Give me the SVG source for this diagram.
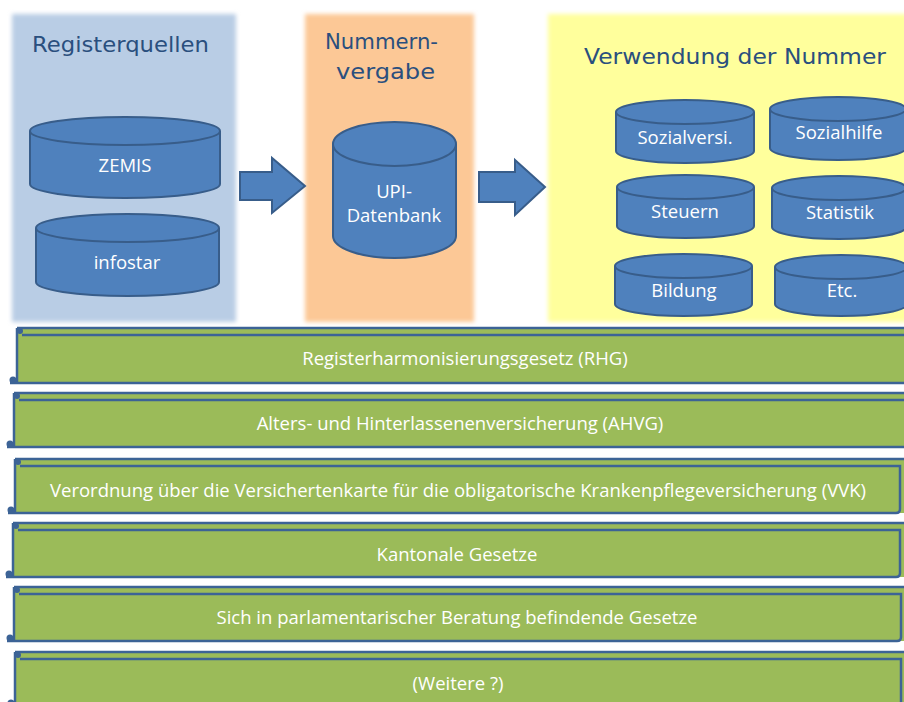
<svg xmlns="http://www.w3.org/2000/svg" width="904" height="702" viewBox="0 0 904 702">
<defs>
<filter id="soft" x="-5%" y="-5%" width="110%" height="110%"><feGaussianBlur stdDeviation="2"/></filter>
<style>
.title{font-family:"DejaVu Sans","Liberation Sans",sans-serif;font-size:21px;fill:#2a4f7e;}
.cyl{fill:#4f81bd;stroke:#385d8a;stroke-width:2;}
.cl{font-family:"Open Sans","Liberation Sans",sans-serif;font-size:18.5px;fill:#ffffff;text-anchor:middle;}
.arr{fill:#4f81bd;stroke:#385d8a;stroke-width:2;}
.ban{fill:#9bbb59;}
.bl{fill:none;stroke:#3c6396;stroke-width:2.5;}
.bt{font-family:"Open Sans","Liberation Sans",sans-serif;font-size:18.5px;fill:#ffffff;text-anchor:middle;}
</style>
</defs>
<rect width="904" height="702" fill="#ffffff"/>
<g id="panels">
<rect x="12" y="14" width="224" height="308" fill="#b9cde5" filter="url(#soft)"/>
<rect x="305" y="14" width="169" height="308" fill="#fcc896" filter="url(#soft)"/>
<rect x="548" y="14" width="360" height="308" fill="#ffff9c" filter="url(#soft)"/>
<text class="title" x="32" y="52" textLength="177" lengthAdjust="spacingAndGlyphs">Registerquellen</text>
<text class="title" x="325" y="49" textLength="113" lengthAdjust="spacingAndGlyphs">Nummern-</text>
<text class="title" x="336" y="79" textLength="99" lengthAdjust="spacingAndGlyphs">vergabe</text>
<text class="title" x="584" y="64" textLength="302" lengthAdjust="spacingAndGlyphs">Verwendung der Nummer</text>
</g>
<g id="zemis">
<path class="cyl" d="M30 131 A95 14 0 0 1 220 131 V184 A95 14 0 0 1 30 184 Z"/>
<path class="cyl" d="M30 131 A95 14 0 0 0 220 131" fill="none"/>
<text class="cl" x="125" y="172">ZEMIS</text>
</g>
<g id="infostar">
<path class="cyl" d="M36 228 A91.5 14 0 0 1 219 228 V282 A91.5 14 0 0 1 36 282 Z"/>
<path class="cyl" d="M36 228 A91.5 14 0 0 0 219 228" fill="none"/>
<text class="cl" x="127" y="269">infostar</text>
</g>
<g id="upi">
<path class="cyl" d="M333 144 A61.5 22 0 0 1 456 144 V236 A61.5 22 0 0 1 333 236 Z"/>
<path class="cyl" d="M333 144 A61.5 22 0 0 0 456 144" fill="none"/>
<text class="cl" x="394" y="198">UPI-</text>
<text class="cl" x="394" y="222">Datenbank</text>
</g>
<g id="sozialversi">
<path class="cyl" d="M616 112 A69 12 0 0 1 754 112 V151 A69 12 0 0 1 616 151 Z"/>
<path class="cyl" d="M616 112 A69 12 0 0 0 754 112" fill="none"/>
<text class="cl" x="685" y="144">Sozialversi.</text>
</g>
<g id="sozialhilfe">
<path class="cyl" d="M770 109 A68 12 0 0 1 906 109 V148 A68 12 0 0 1 770 148 Z"/>
<path class="cyl" d="M770 109 A68 12 0 0 0 906 109" fill="none"/>
<text class="cl" x="839" y="139">Sozialhilfe</text>
</g>
<g id="steuern">
<path class="cyl" d="M617 187 A68.5 12 0 0 1 754 187 V226 A68.5 12 0 0 1 617 226 Z"/>
<path class="cyl" d="M617 187 A68.5 12 0 0 0 754 187" fill="none"/>
<text class="cl" x="685" y="218">Steuern</text>
</g>
<g id="statistik">
<path class="cyl" d="M772 188 A67 12 0 0 1 906 188 V227 A67 12 0 0 1 772 227 Z"/>
<path class="cyl" d="M772 188 A67 12 0 0 0 906 188" fill="none"/>
<text class="cl" x="840" y="219">Statistik</text>
</g>
<g id="bildung">
<path class="cyl" d="M615 266 A68.5 12 0 0 1 752 266 V304 A68.5 12 0 0 1 615 304 Z"/>
<path class="cyl" d="M615 266 A68.5 12 0 0 0 752 266" fill="none"/>
<text class="cl" x="684" y="297">Bildung</text>
</g>
<g id="etc">
<path class="cyl" d="M775 267 A66 12 0 0 1 907 267 V304 A66 12 0 0 1 775 304 Z"/>
<path class="cyl" d="M775 267 A66 12 0 0 0 907 267" fill="none"/>
<text class="cl" x="842" y="297">Etc.</text>
</g>
<g id="connectors">
<path class="arr" d="M240 172 H272 V158 L305 186 L272 213 V200 H240 Z"/>
<path class="arr" d="M479 172 H515 V160 L545 187 L515 215 V202 H479 Z"/>
</g>
<g id="rhg">
<rect class="ban" x="17" y="328" width="890" height="55"/>
<path class="bl" d="M17 328 H906 M22 335 H906 M17 328 V383 M10 383 H906"/>
<circle cx="20" cy="331" r="3" fill="#3c6396"/>
<circle cx="13" cy="380" r="3.5" fill="#3c6396"/>
<text class="bt" x="465" y="365">Registerharmonisierungsgesetz (RHG)</text>
</g>
<g id="ahvg">
<rect class="ban" x="14" y="393" width="893" height="54"/>
<path class="bl" d="M14 393 H906 M19 400 H906 M14 393 V447 M7 447 H906"/>
<circle cx="17" cy="396" r="3" fill="#3c6396"/>
<circle cx="10" cy="444" r="3.5" fill="#3c6396"/>
<text class="bt" x="460" y="430">Alters- und Hinterlassenenversicherung (AHVG)</text>
</g>
<g id="vvk">
<rect class="ban" x="15" y="459" width="891" height="54"/>
<path class="bl" d="M15 459 H906 M20 466 H900 V509 Q900 513 896 513 H8 M15 459 V513"/>
<circle cx="18" cy="462" r="3" fill="#3c6396"/>
<circle cx="11" cy="510" r="3.5" fill="#3c6396"/>
<text class="bt" x="458" y="497" textLength="816" lengthAdjust="spacingAndGlyphs">Verordnung über die Versichertenkarte für die obligatorische Krankenpflegeversicherung (VVK)</text>
</g>
<g id="kantonal">
<rect class="ban" x="13" y="523" width="893" height="54"/>
<path class="bl" d="M13 523 H906 M18 530 H900 V573 Q900 577 896 577 H6 M13 523 V577"/>
<circle cx="16" cy="526" r="3" fill="#3c6396"/>
<circle cx="9" cy="574" r="3.5" fill="#3c6396"/>
<text class="bt" x="457" y="561">Kantonale Gesetze</text>
</g>
<g id="parlament">
<rect class="ban" x="14" y="587" width="892" height="54"/>
<path class="bl" d="M14 587 H906 M19 594 H901 V637 Q901 641 897 641 H7 M14 587 V641"/>
<circle cx="17" cy="590" r="3" fill="#3c6396"/>
<circle cx="10" cy="638" r="3.5" fill="#3c6396"/>
<text class="bt" x="457" y="624">Sich in parlamentarischer Beratung befindende Gesetze</text>
</g>
<g id="weitere">
<rect class="ban" x="15" y="652" width="892" height="55"/>
<path class="bl" d="M15 652 H906 M20 659 H901 V706 M15 652 V706"/>
<circle cx="18" cy="655" r="3" fill="#3c6396"/>
<circle cx="11" cy="703" r="3.5" fill="#3c6396"/>
<text class="bt" x="458" y="690">(Weitere ?)</text>
</g>
</svg>
